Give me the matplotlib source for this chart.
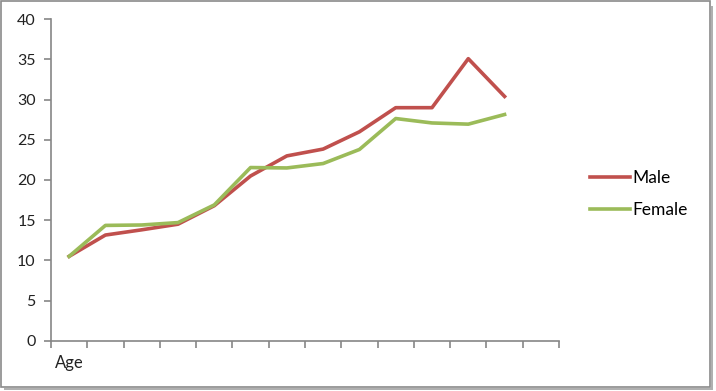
import numpy as np
import matplotlib.pyplot as plt
from matplotlib.patches import Rectangle

# values
categories = ["Age", "", "", "", "", "", "", "", "", "", "", "", "", ""]
male = [10.5, 13.15, 13.8, 14.5, 16.8, 20.5, 23.0, 23.85, 26.0, 29.0, 29.0, 35.1, 30.4]
female = [10.5, 14.35, 14.4, 14.7, 16.9, 21.55, 21.5, 22.05, 23.8, 27.65, 27.1, 26.95, 28.15]
yticks = [0, 5, 10, 15, 20, 25, 30, 35, 40]

W, H = 716, 391
fig = plt.figure(figsize=(W / 100, H / 100), dpi=100)
plt.rcParams['font.family'] = ['Lato', 'DejaVu Sans']

ax = fig.add_axes([51 / W, (H - 340.7) / H, (559 - 51) / W, (340.7 - 19.3) / H])

x = np.arange(len(male))
ax.plot(x, male, color='#C0504D', lw=2.6, solid_joinstyle='round', label='Male')
ax.plot(x, female, color='#9BBB59', lw=2.6, solid_joinstyle='round', label='Female')

ax.set_xlim(-0.5, len(categories) - 0.5)
ax.set_ylim(0, 40)
ax.set_yticks(yticks)
ax.set_yticklabels([str(v) for v in yticks], fontsize=11.5, color='#222222')

# category boundary ticks, labels at centers
ax.set_xticks(np.arange(len(categories) + 1) - 0.5)
ax.set_xticklabels([])
ax.set_xticks(np.arange(len(categories)), minor=True)
ax.set_xticklabels(categories, minor=True, fontsize=12, color='#222222')
ax.tick_params(axis='x', which='minor', length=0, pad=10)
ax.tick_params(axis='x', which='major', length=5, width=1.2, color='#868686')
ax.tick_params(axis='y', length=5, width=1.2, color='#868686', pad=6)

for s in ['top', 'right']:
    ax.spines[s].set_visible(False)
for s in ['left', 'bottom']:
    ax.spines[s].set_color('#868686')
    ax.spines[s].set_linewidth(1.2)

leg = fig.legend(loc='upper left', bbox_to_anchor=(574 / W, (H - 154) / H), frameon=False,
                 fontsize=12.5, handlelength=2.3, handletextpad=0.15, labelspacing=0.95)

# screenshot frame
fig.patches.append(Rectangle((1 / W, 4 / H), 709 / W, 386 / H, transform=fig.transFigure,
                             fill=False, edgecolor='#8a8a8a', lw=1.2))
fig.patches.append(Rectangle((4 / W, 1 / H), 709 / W, 2.5 / H, transform=fig.transFigure,
                             facecolor='#b0b0b0', edgecolor='none'))
fig.patches.append(Rectangle((710.5 / W, 1 / H), 2.5 / W, 384 / H, transform=fig.transFigure,
                             facecolor='#b0b0b0', edgecolor='none'))

fig.savefig('out.png', dpi=100)
